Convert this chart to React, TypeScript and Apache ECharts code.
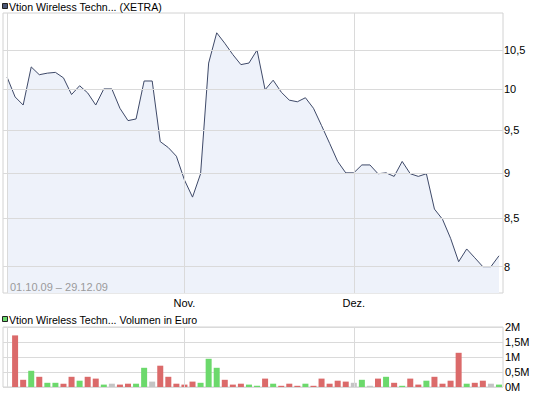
import React, { useEffect, useRef } from "react";
import * as echarts from "echarts";

// XETRA trading days, Q4 2009
const octDays = [1, 2, 5, 6, 7, 8, 9, 12, 13, 14, 15, 16, 19, 20, 21, 22, 23, 26, 27, 28, 29, 30];
const novDays = [2, 3, 4, 5, 6, 9, 10, 11, 12, 13, 16, 17, 18, 19, 20, 23, 24, 25, 26, 27, 30];
const decDays = [1, 2, 3, 4, 7, 8, 9, 10, 11, 14, 15, 16, 17, 18, 21, 22, 23, 28, 29];

const pad = (n: number) => String(n).padStart(2, "0");
const tradingDays: string[] = [
  ...octDays.map((d) => `${pad(d)}.10.09`),
  ...novDays.map((d) => `${pad(d)}.11.09`),
  ...decDays.map((d) => `${pad(d)}.12.09`),
];

// closing prices in EUR
const closePrices = [
  10.15, 9.9, 9.8, 10.28, 10.18, 10.2, 10.21, 10.14, 9.93, 10.04,
  9.95, 9.8, 10.0, 10.0, 9.76, 9.61, 9.63, 10.1, 10.1, 9.36,
  9.29, 9.19, 8.92, 8.73, 8.99, 10.33, 10.73, 10.59, 10.44, 10.31,
  10.33, 10.5, 9.99, 10.11, 9.96, 9.86, 9.84, 9.89, 9.76, 9.55,
  9.34, 9.13, 9.0, 9.0, 9.09, 9.09, 8.99, 9.0, 8.96, 9.13,
  8.99, 8.96, 8.99, 8.6, 8.49, 8.29, 8.05, 8.18, 8.09, 8.0,
  8.0, 8.11,
];

// traded volume in EUR (no bar on the first day)
const volumes: (number | null)[] = [
  null, 1720000, 240000, 540000, 340000, 140000, 140000, 110000, 340000, 210000,
  340000, 280000, 80000, 110000, 80000, 110000, 110000, 640000, 180000, 710000,
  340000, 110000, 80000, 180000, 140000, 940000, 640000, 240000, 80000, 110000,
  80000, 40000, 280000, 110000, 40000, 110000, 40000, 110000, 40000, 280000,
  110000, 210000, 180000, 140000, 240000, 40000, 280000, 340000, 140000, 40000,
  280000, 80000, 210000, 340000, 110000, 210000, 1140000, 110000, 140000, 210000,
  110000, 80000,
];

const priceTicks = [8, 8.5, 9, 9.5, 10, 10.5];
const monthNames: Record<string, string> = { "10": "Okt.", "11": "Nov.", "12": "Dez." };

const UP = "#6cd96c";
const DOWN = "#db6a6a";
const FLAT = "#c4c4c4";
const GRID_LINE = "#dadada";
const FONT = "'Liberation Sans', Arial, sans-serif";

const decimal = (v: number) => String(v).replace(".", ",");
const monthOf = (d: string) => d.slice(3, 5);
const isMonthStart = (i: number) => i === 0 || monthOf(tradingDays[i]) !== monthOf(tradingDays[i - 1]);
const monthStarts = tradingDays.filter((_, i) => isMonthStart(i));

export default function App() {
  const ref = useRef<HTMLDivElement>(null);

  useEffect(() => {
    if (!ref.current) return;
    const chart = echarts.init(ref.current, null, { renderer: "svg" });

    const volumeData = volumes.map((v, i) => {
      if (v == null) return null;
      const diff = closePrices[i] - closePrices[i - 1];
      const color = diff > 0 ? UP : diff < 0 ? DOWN : FLAT;
      return { value: v, itemStyle: { color } };
    });

    const vLines = monthStarts.map((d) => ({ xAxis: d }));
    const gridLineStyle = { color: GRID_LINE, width: 1, type: "solid" as const };

    chart.setOption({
      animation: false,
      textStyle: { fontFamily: FONT },
      grid: [
        { left: 3, top: 13, width: 500, height: 280, show: true, borderColor: "#d2d2d2", borderWidth: 1 },
        { left: 3, top: 327, width: 500, height: 60, show: true, borderColor: "#d2d2d2", borderWidth: 1 },
      ],
      xAxis: [
        {
          type: "category",
          gridIndex: 0,
          data: tradingDays,
          boundaryGap: true,
          axisLine: { show: false },
          axisTick: { show: false },
          splitLine: { show: false },
          axisLabel: {
            interval: (i: number) => i > 0 && isMonthStart(i),
            formatter: (v: string) => monthNames[monthOf(v)],
            color: "#000",
            fontSize: 11,
            margin: 4,
          },
        },
        {
          type: "category",
          gridIndex: 1,
          data: tradingDays,
          boundaryGap: true,
          axisLine: { show: false },
          axisTick: { show: false },
          splitLine: { show: false },
          axisLabel: { show: false },
        },
      ],
      yAxis: [
        {
          type: "log",
          logBase: 10,
          gridIndex: 0,
          position: "right",
          min: 7.74,
          max: 11,
          axisLine: { show: false },
          axisTick: { show: false },
          splitLine: { show: false },
          axisLabel: {
            customValues: priceTicks,
            formatter: (v: number) => decimal(v),
            color: "#000",
            fontSize: 11,
            margin: 1,
          },
        },
        {
          type: "value",
          gridIndex: 1,
          position: "right",
          min: 0,
          max: 2000000,
          interval: 500000,
          axisLine: { show: false },
          axisTick: { show: false },
          splitLine: { show: true, lineStyle: { color: GRID_LINE } },
          axisLabel: {
            formatter: (v: number) => decimal(v / 1000000) + "M",
            color: "#000",
            fontSize: 11,
            margin: 2,
          },
        },
      ],
      series: [
        {
          type: "line",
          xAxisIndex: 0,
          yAxisIndex: 0,
          data: closePrices,
          symbol: "none",
          lineStyle: { color: "#3e4968", width: 1 },
          areaStyle: { color: "#eef2fa", opacity: 1, origin: "start" },
          markLine: {
            silent: true,
            symbol: "none",
            label: { show: false },
            lineStyle: gridLineStyle,
            data: [...priceTicks.map((t) => ({ yAxis: t })), ...vLines],
          },
          z: 2,
        },
        {
          type: "bar",
          xAxisIndex: 1,
          yAxisIndex: 1,
          data: volumeData,
          barWidth: 6,
          markLine: {
            silent: true,
            symbol: "none",
            label: { show: false },
            lineStyle: gridLineStyle,
            data: vLines,
          },
        },
      ],
      graphic: [
        {
          type: "rect",
          z: 20,
          shape: { x: 2.5, y: 3.5, width: 5, height: 5 },
          style: { fill: "#4b5676", stroke: "#222", lineWidth: 1 },
        },
        {
          type: "text",
          z: 20,
          x: 9,
          y: 1,
          style: { text: "Vtion Wireless Techn... (XETRA)", fill: "#000", font: `10.6px ${FONT}` },
        },
        {
          type: "text",
          z: 20,
          x: 10,
          y: 281,
          style: {
            text: `${tradingDays[0]} – ${tradingDays[tradingDays.length - 1]}`,
            fill: "#9a9a9a",
            font: `11px ${FONT}`,
          },
        },
        {
          type: "rect",
          z: 20,
          shape: { x: 2.5, y: 316.5, width: 5, height: 5 },
          style: { fill: UP, stroke: "#222", lineWidth: 1 },
        },
        {
          type: "text",
          z: 20,
          x: 9,
          y: 314,
          style: { text: "Vtion Wireless Techn... Volumen in Euro", fill: "#000", font: `10.6px ${FONT}` },
        },
      ],
    });

    return () => chart.dispose();
  }, []);

  return <div ref={ref} style={{ position: "absolute", left: 0, top: 0, width: 545, height: 395 }} />;
}
